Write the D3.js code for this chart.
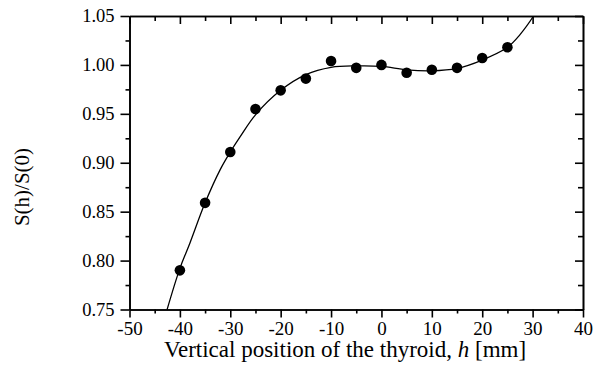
<!DOCTYPE html>
<meta charset="utf-8">
<title>S(h)/S(0) vs vertical position</title>
<script src="https://d3js.org/d3.v7.min.js"></script>
<style>
	body { margin: 0; background: #fff; }
	svg text { font-family: "Liberation Serif", "Times New Roman", serif; fill: #000; }
	.axis path, .axis line { stroke: #000; stroke-width: 1.6; }
</style>
<svg id="chart" width="602" height="381"></svg>
<script>

// measured points
var pointH = [-40, -35, -30, -25, -20, -15, -10, -5, 0, 5, 10, 15, 20, 25];
var pointS = [0.790, 0.859, 0.911, 0.955, 0.974, 0.986, 1.004, 0.997, 1.000, 0.992, 0.995, 0.997, 1.007, 1.018];

// fitted curve
var curveH = [-43.5, -40, -38, -35, -32, -30, -28, -25, -20, -15, -10, -5, 0, 5, 10, 15, 20, 25, 27.5, 30.2, 31];
var curveS = [0.733, 0.792, 0.818, 0.859, 0.893, 0.911, 0.927, 0.949, 0.974, 0.990, 0.9975, 0.999, 0.9985, 0.995, 0.994, 0.9965, 1.005, 1.018, 1.031, 1.05, 1.057];

var xMajor = [-50, -40, -30, -20, -10, 0, 10, 20, 30, 40];
var xMinor = [-45, -35, -25, -15, -5, 5, 15, 25, 35];
var yMajor = [0.75, 0.80, 0.85, 0.90, 0.95, 1.00, 1.05];
var yMinor = [0.775, 0.825, 0.875, 0.925, 0.975, 1.025];

var svg = d3.select("#chart");

var x = d3.scaleLinear().domain([-50, 40]).range([129.5, 583]);
var y = d3.scaleLinear().domain([0.75, 1.05]).range([309.5, 16]);

svg.append("defs").append("clipPath").attr("id", "plotclip")
	.append("rect")
	.attr("x", x(-50)).attr("y", y(1.05))
	.attr("width", x(40) - x(-50)).attr("height", y(0.75) - y(1.05));

// curve
var line = d3.line()
	.x(function(d){return x(d[0])})
	.y(function(d){return y(d[1])})
	.curve(d3.curveCatmullRom);

svg.append("path")
	.datum(curveH.map(function(h, i){return [h, curveS[i]]}))
	.attr("clip-path", "url(#plotclip)")
	.attr("fill", "none")
	.attr("stroke", "#000")
	.attr("stroke-width", 1.3)
	.attr("d", line);

// points
svg.append("g").selectAll("circle")
	.data(pointH.map(function(h, i){return [h, pointS[i]]}))
	.enter().append("circle")
	.attr("cx", function(d){return x(d[0])})
	.attr("cy", function(d){return y(d[1])})
	.attr("r", 5.3)
	.attr("fill", "#000");

function fmt2(d){ return d.toFixed(2) }
function fmtInt(d){ return String(d) } // plain hyphen minus like the original

// bottom axis
svg.append("g").attr("class", "axis")
	.attr("transform", "translate(0," + y(0.75) + ")")
	.call(d3.axisBottom(x).tickValues(xMinor).tickSize(4).tickSizeOuter(0).tickFormat(""));
var bx = svg.append("g").attr("class", "axis")
	.attr("transform", "translate(0," + y(0.75) + ")")
	.call(d3.axisBottom(x).tickValues(xMajor).tickSize(8).tickSizeOuter(0).tickFormat(fmtInt).tickPadding(4));
bx.selectAll("text").attr("font-size", 19).attr("dy", "0.71em");

// top axis (ticks inward)
svg.append("g").attr("class", "axis")
	.attr("transform", "translate(0," + y(1.05) + ")")
	.call(d3.axisBottom(x).tickValues(xMinor).tickSize(5).tickSizeOuter(0).tickFormat(""));
svg.append("g").attr("class", "axis")
	.attr("transform", "translate(0," + y(1.05) + ")")
	.call(d3.axisBottom(x).tickValues(xMajor).tickSize(8).tickSizeOuter(0).tickFormat(""));

// left axis
svg.append("g").attr("class", "axis")
	.attr("transform", "translate(" + x(-50) + ",0)")
	.call(d3.axisLeft(y).tickValues(yMinor).tickSize(4).tickSizeOuter(0).tickFormat(""));
var ly = svg.append("g").attr("class", "axis")
	.attr("transform", "translate(" + x(-50) + ",0)")
	.call(d3.axisLeft(y).tickValues(yMajor).tickSize(9).tickSizeOuter(0).tickFormat(fmt2).tickPadding(6));
ly.selectAll("text").attr("font-size", 18.5);

// right axis (ticks inward)
svg.append("g").attr("class", "axis")
	.attr("transform", "translate(" + x(40) + ",0)")
	.call(d3.axisLeft(y).tickValues(yMinor).tickSize(5).tickSizeOuter(0).tickFormat(""));
svg.append("g").attr("class", "axis")
	.attr("transform", "translate(" + x(40) + ",0)")
	.call(d3.axisLeft(y).tickValues(yMajor).tickSize(8).tickSizeOuter(0).tickFormat(""));

// axis titles
var xt = svg.append("text")
	.attr("x", 345).attr("y", 357)
	.attr("text-anchor", "middle")
	.attr("font-size", 23);
xt.append("tspan").text("Vertical position of the thyroid, ");
xt.append("tspan").attr("font-style", "italic").text("h");
xt.append("tspan").text(" [mm]");

svg.append("text")
	.attr("transform", "translate(29,187) rotate(-90)")
	.attr("text-anchor", "middle")
	.attr("font-size", 21)
	.text("S(h)/S(0)");

</script>
